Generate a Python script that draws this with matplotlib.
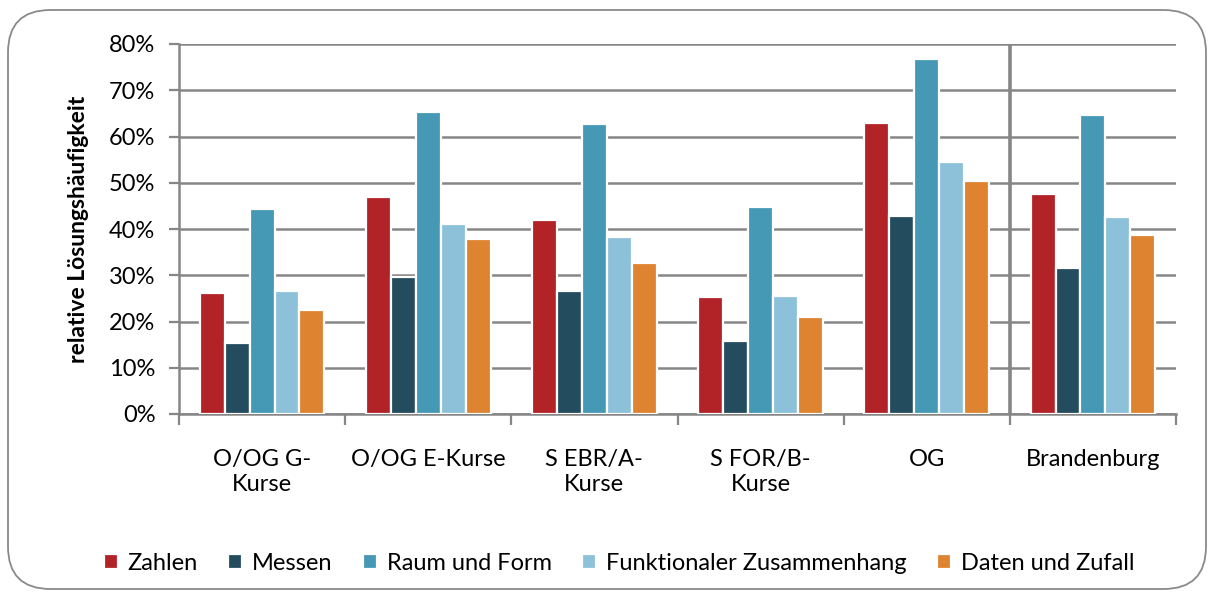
import matplotlib.pyplot as plt
import numpy as np
from matplotlib.patches import FancyBboxPatch

plt.rcParams["font.family"] = ["Lato", "DejaVu Sans"]

groups = ["O/OG G-\nKurse", "O/OG E-Kurse", "S EBR/A-\nKurse", "S FOR/B-\nKurse", "OG", "Brandenburg"]
series = ["Zahlen", "Messen", "Raum und Form", "Funktionaler Zusammenhang", "Daten und Zufall"]
colors = ["#B22328", "#234C5E", "#4599B4", "#8DC1DA", "#DE8431"]

zahlen = [26.1, 46.9, 42.0, 25.3, 62.9, 47.6]
messen = [15.4, 29.6, 26.7, 15.8, 42.9, 31.6]
raum = [44.3, 65.2, 62.8, 44.8, 76.8, 64.6]
funktional = [26.7, 41.0, 38.2, 25.5, 54.4, 42.6]
daten = [22.4, 37.9, 32.7, 21.0, 50.4, 38.6]
values = [zahlen, messen, raum, funktional, daten]

fig = plt.figure(figsize=(12.14, 5.95), dpi=100)
ax = fig.add_axes([179 / 1214, 1 - 414 / 595, 997 / 1214, 370 / 595])

# rounded frame around the whole chart
frame = FancyBboxPatch((8 / 1214, 6 / 595), 1198 / 1214, 579 / 595,
                       boxstyle="round,pad=0,rounding_size=0.035",
                       transform=fig.transFigure, fill=False,
                       edgecolor="#8a8a8a", linewidth=1.3, mutation_aspect=1214 / 595)
fig.patches.append(frame)

x = np.arange(len(groups))
w = 0.15
for j, (name, vals, c) in enumerate(zip(series, values, colors)):
    ax.bar(x + (j - 2) * w, vals, width=w, color=c, edgecolor="white",
           linewidth=1.6, label=name, zorder=3)

ax.set_xlim(-0.5, len(groups) - 0.5)
ax.set_ylim(0, 80)
ax.set_yticks(np.arange(0, 81, 10))
ax.set_yticklabels([f"{v}%" for v in range(0, 81, 10)], fontsize=17)
ax.yaxis.grid(True, color="#868686", linewidth=1.8, zorder=0)
ax.set_axisbelow(True)

# category labels between boundary ticks
ax.set_xticks(np.arange(-0.5, len(groups), 1.0))
ax.set_xticklabels([])
ax.set_xticks(x, minor=True)
ax.set_xticklabels(groups, minor=True, fontsize=17, linespacing=1.25)
ax.tick_params(axis="x", which="minor", length=0, pad=25)
ax.tick_params(axis="x", which="major", length=8, width=1.6, color="#868686")
ax.tick_params(axis="y", length=7, width=1.6, color="#868686", pad=10)

for s in ["top", "right"]:
    ax.spines[s].set_visible(False)
for s in ["left", "bottom"]:
    ax.spines[s].set_color("#868686")
    ax.spines[s].set_linewidth(1.8)

# separator before Brandenburg
ax.axvline(4.5, color="#868686", linewidth=2.6, zorder=4)

ax.set_ylabel("relative Lösungshäufigkeit", fontsize=16.5, fontweight="bold", labelpad=14)

fig.legend(loc="center", bbox_to_anchor=(619 / 1214, 1 - 563 / 595), ncol=5,
           frameon=False, fontsize=17, handlelength=0.6, handleheight=0.6,
           handletextpad=0.4, columnspacing=1.3)

fig.savefig("out.png", dpi=100)
